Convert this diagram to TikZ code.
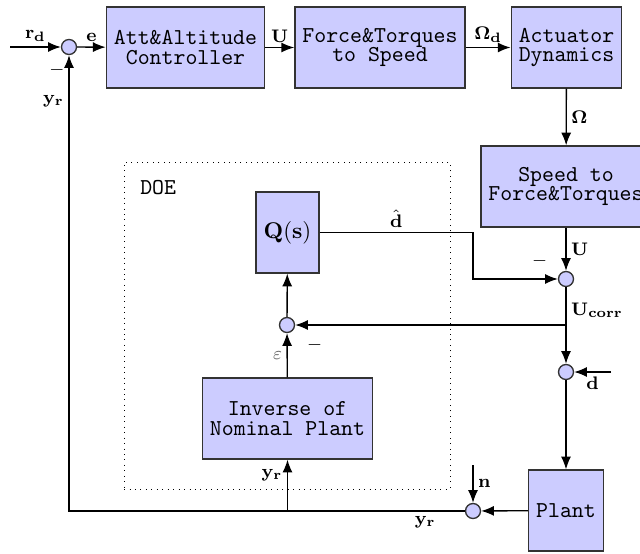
\documentclass[tikz,border=0pt]{standalone}
\usetikzlibrary{arrows.meta, positioning}

\begin{document}
\begin{tikzpicture}[
  x=0.44pt, y=-0.44pt,
  >={Latex[length=5.6pt, width=4.4pt]}, semithick,
  font=\small,
  block/.style={draw=black!80, fill=blue!20, rectangle, minimum height=35.6pt, align=center, font=\fontsize{10pt}{8.6pt}\selectfont\ttfamily},
  sumpt/.style={draw=black!80, fill=blue!20, circle, inner sep=0pt, minimum size=6.6pt},
  sig/.style={font=\footnotesize, inner sep=2pt}
]
  \useasboundingbox (0,0) rectangle (640,554);

  % Bloque DOE (recuadro punteado)
  \node[draw, dotted, thin, minimum width=143.4pt, minimum height=143.9pt] (doe) at (287,325.5) {};
  \node[anchor=north west, inner sep=0pt, font=\ttfamily] (doelbl) at ([shift={(16,18)}]doe.north west) {DOE};

  % Cadena directa
  \node[block, minimum width=68.2pt] (ctrl) at (185.5,47.5) {Att\&Altitude\\Controller};
  \node[block, minimum width=73.9pt] (f2s) at (380,47.5) {Force\&Torques\\to Speed};
  \node[block, minimum width=48pt] (act) at (566.5,47.5) {Actuator\\Dynamics};
  \node[block, minimum width=74pt] (s2f) at (566,186.5) {Speed to\\Force\&Torques};
  \node[block, minimum width=31pt] (plant) at (566,510.5) {Plant};

  % Observador
  \node[block, minimum width=26pt, font=\normalsize] (qs) at (287.5,232.5) {$\mathbf{Q(s)}$};
  \node[block, minimum width=73.5pt] (inv) at (287.5,418.5) {Inverse of\\Nominal Plant};

  % Sumadores
  \node[sumpt, label={[sig, xshift=-5.3pt, yshift=-1.5pt]below:$-$}] (s1) at (69,47) {};
  \node[sumpt, label={[sig, label distance=3pt]155:$-$}] (sU) at (566,279) {};
  \node[sumpt, label={[sig, label distance=4pt]-30:$-$}] (se) at (287,325) {};
  \node[sumpt] (sd) at (566,372) {};
  \node[sumpt] (sn) at (473,511) {};

  % Entradas externas
  \coordinate (rin) at (10,47);
  \coordinate (din) at (611,372);
  \coordinate (nin) at (473,465);

  % Conexiones
  \draw[->] (rin) -- node[above, sig] {$\mathbf{r_d}$} (s1);
  \draw[->] (s1) -- node[above, sig] {$\mathbf{e}$} (ctrl);
  \draw[->] (ctrl) -- node[above, sig] {$\mathbf{U}$} (f2s);
  \draw[->] (f2s) -- node[above, sig] {$\mathbf{\Omega_d}$} (act);
  \draw[->] (act) -- node[right, sig] {$\mathbf{\Omega}$} (s2f);
  \draw[->] (s2f) -- node[right, sig] {$\mathbf{U}$} (sU);
  \draw[->] (sU) -- node[right, sig, pos=0.3] {$\mathbf{U_{corr}}$} (sd);
  \draw[->] (din) -- node[below, sig] {$\mathbf{d}$} (sd);
  \draw[->] (sd) -- (plant);
  \draw[->] (plant) -- (sn);
  \draw[->] (nin) -- node[right, sig] {$\mathbf{n}$} (sn);
  \draw[->] (sn) -| node[below, sig, pos=0.05] {$\mathbf{y_r}$} node[left, sig, pos=0.95] {$\mathbf{y_r}$} (s1);

  % Lazo del DOE
  \draw[->] (inv.south |- sn) -- node[left, sig, pos=0.7] {$\mathbf{y_r}$} (inv);
  \draw[->] (inv) -- node[left, sig, text=black!60] {$\varepsilon$} (se);
  \draw[->] (se) -- (qs);
  \draw[->] (sU |- se) -- (se);
  \draw[->] (qs.east) -- node[above, sig] {$\hat{\mathbf{d}}$} (qs.east -| sn) |- (sU);

\end{tikzpicture}
\end{document}
